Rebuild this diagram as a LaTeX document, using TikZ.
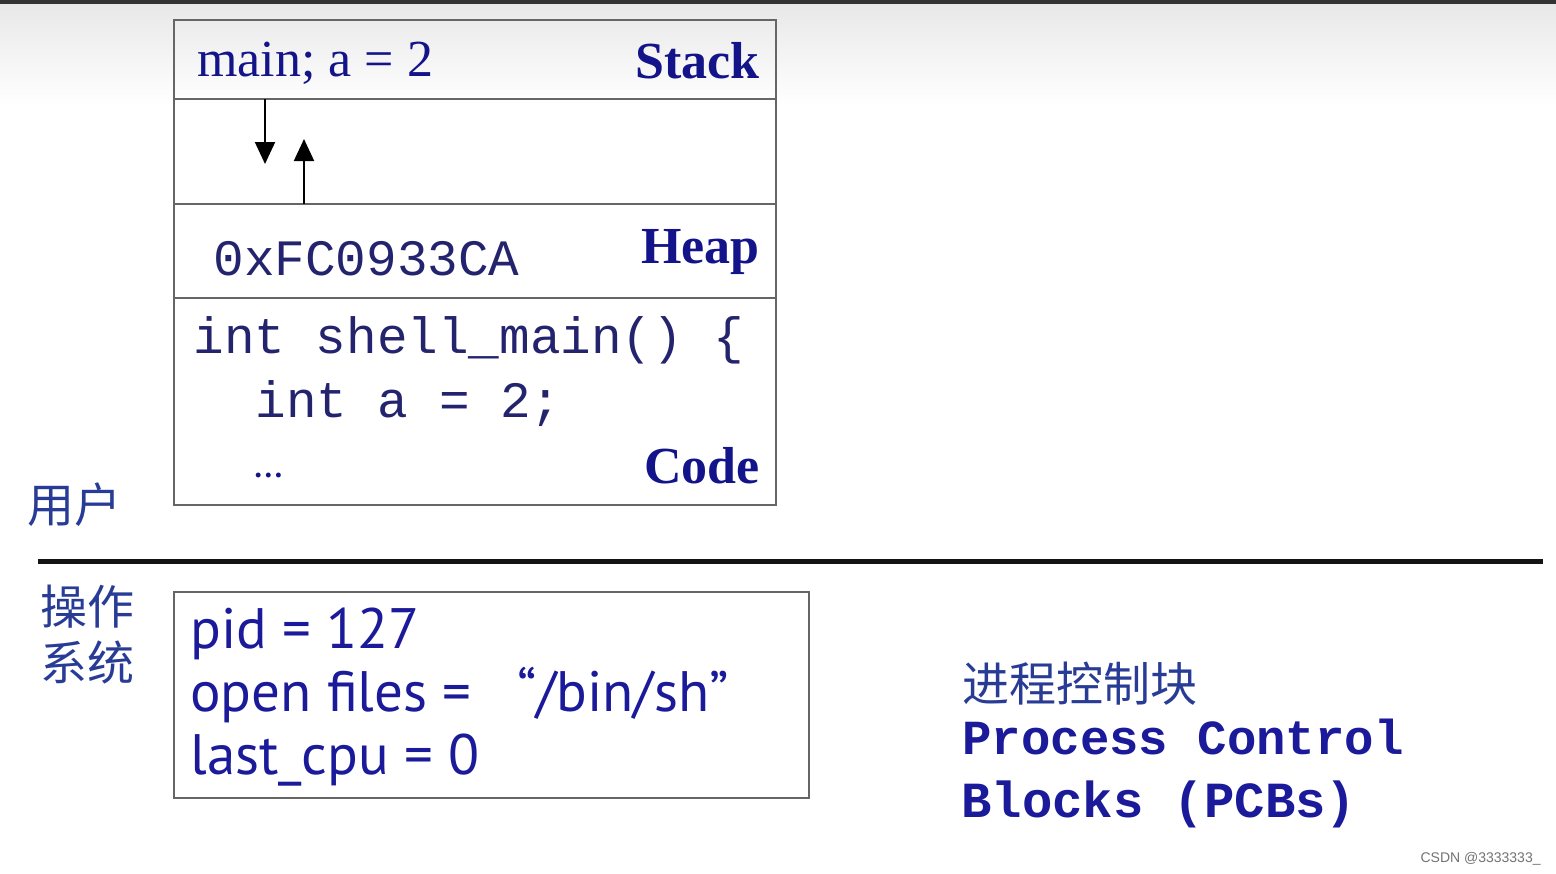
\documentclass[tikz,border=0pt]{standalone}
\usepackage{fontspec}
\setmainfont{Liberation Serif}
\newfontfamily\monofont{Liberation Mono}
\newfontfamily\pcbfont{PT Sans}
\newfontfamily\cjk{Noto Sans CJK SC}
\newfontfamily\wmfont{Liberation Sans}
\usetikzlibrary{arrows.meta}
\definecolor{navy}{HTML}{14148A}
\definecolor{codeblue}{HTML}{24246E}
\definecolor{pcbblue}{HTML}{1A1A9A}
\definecolor{cjkblue}{HTML}{283C96}
\definecolor{boxgray}{HTML}{666666}
\tikzset{
  membox/.style={draw=boxgray, line width=1pt},
  serifbig/.style={inner sep=0pt, anchor=base west, text=navy, font=\fontsize{26}{30}\selectfont},
  seriflabel/.style={inner sep=0pt, anchor=base east, text=navy, font=\fontsize{26}{30}\selectfont\bfseries},
  codetxt/.style={inner sep=0pt, anchor=base west, text=codeblue, font=\monofont\fontsize{25.5}{30}\selectfont},
  pcbtxt/.style={inner sep=0pt, anchor=base west, text=pcbblue, font=\pcbfont\fontsize{28.5}{32}\selectfont},
  cjktxt/.style={inner sep=0pt, anchor=base west, text=cjkblue, font=\cjk\fontsize{23.5}{28}\selectfont},
  pcbmono/.style={inner sep=0pt, anchor=base west, text=pcbblue, font=\monofont\bfseries\fontsize{24.5}{28}\selectfont},
  growarrow/.style={draw=black, line width=1pt, -{Triangle[width=10pt,length=11pt]}},
}
\begin{document}
\begin{tikzpicture}[x=0.5pt, y=-0.5pt]
\useasboundingbox (0,0) rectangle (1556,873);
\fill[white] (0,0) rectangle (1556,873);
\shade[top color=black!9, bottom color=white] (0,4) rectangle (1556,105);
\fill[black!80] (0,0) rectangle (1556,4);

% memory box
\draw[membox] (174,20) rectangle (776,505);
\draw[membox] (174,99) -- (776,99);
\draw[membox] (174,204) -- (776,204);
\draw[membox] (174,298) -- (776,298);

\node[serifbig] (mainA) at (197,76) {main; a = 2};
\node[seriflabel] (stack) at (760,78) {Stack};
\coordinate (dnS) at (265,99);
\coordinate (dnE) at (265,164);
\coordinate (upS) at (304,204);
\coordinate (upE) at (304,139);
\draw[growarrow] (dnS) -- (dnE);
\draw[growarrow] (upS) -- (upE);

\node[codetxt] (addr) at (213,275) {0xFC0933CA};
\node[seriflabel] (heap) at (760,263) {Heap};

\node[codetxt] (code1) at (193,353) {int shell\_main() \{};
\node[codetxt] (code2) at (255,417) {int a = 2;};
\node[inner sep=0pt, anchor=base west, text=navy, font=\fontsize{15}{18}\selectfont\bfseries] (code3) at (253,477) {…};
\node[seriflabel] (codelbl) at (760,483) {Code};

\node[cjktxt] (user) at (27,522) {用户};

% divider
\coordinate (divL) at (38,561);
\coordinate (divR) at (1543,561);
\draw[line width=2.5pt, black!92] (divL) -- (divR);

\node[cjktxt] (os1) at (40,624) {操作};
\node[cjktxt] (os2) at (40,680) {系统};

% PCB box
\draw[membox] (174,592) rectangle (809,798);
\node[pcbtxt] (pid) at (190,648) {pid = 127};
\node[pcbtxt] (files) at (190,711) {open files = \ \ “/bin/sh”};
\node[pcbtxt] (cpu) at (190,774) {last\_cpu = 0};

\node[cjktxt] (pcbcn) at (962,701) {进程控制块};
\node[pcbmono] (pcb1) at (962,754) {Process Control};
\node[pcbmono, font=\monofont\bfseries\fontsize{25.3}{28}\selectfont] (pcb2) at (961,817) {Blocks (PCBs)};

\node[inner sep=0pt, anchor=base east, text=black!55, font=\wmfont\fontsize{7}{8}\selectfont] (wm) at (1541,862) {CSDN @3333333\_};
\end{tikzpicture}
\end{document}
